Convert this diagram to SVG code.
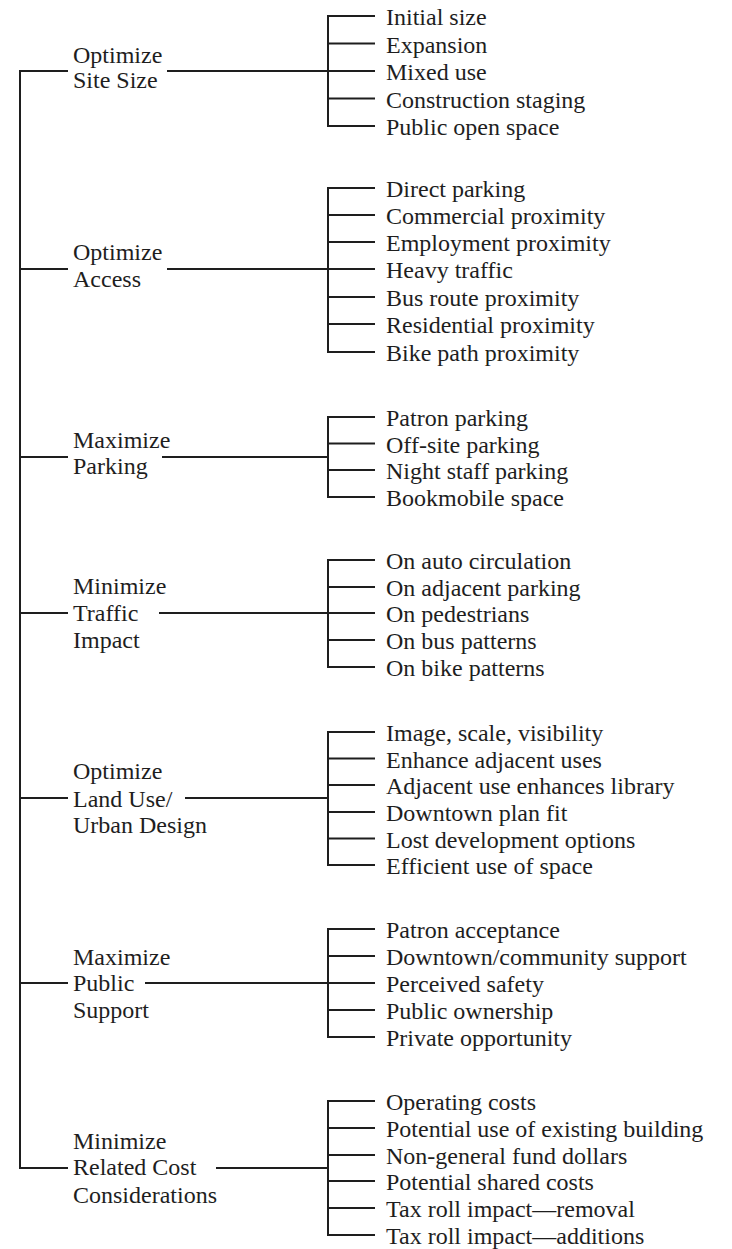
<svg xmlns="http://www.w3.org/2000/svg" width="732" height="1249" viewBox="0 0 732 1249">
  <style>
    .ln { stroke: #1e1e1e; stroke-width: 2; fill: none; stroke-linecap: square; }
    text { font-family: "Liberation Serif", "Times New Roman", serif; font-size: 24px; fill: #1e1e1e; }
  </style>
  <rect width="732" height="1249" fill="#ffffff"/>

  <!-- connectors: spine, stubs, main links, brackets and child ticks -->
  <g id="connectors" class="ln">
    <path d="M20 71 V1168"/>
    <!-- stubs from spine to each objective -->
    <path d="M20 71 H67 M20 269 H67 M20 457 H67 M20 613 H67 M20 798 H67 M20 983 H67 M20 1168 H67"/>
    <!-- links from objectives to brackets -->
    <path d="M168 71 H328 M168 269 H328 M163 457 H328 M160 613 H328 M186 798 H328 M146 983 H328 M217 1168 H328"/>
    <!-- brackets -->
    <path d="M328 16 V126 M328 188 V352 M328 417 V497 M328 560 V667 M328 732 V865 M328 929 V1037 M328 1101 V1235"/>
    <!-- child ticks -->
    <path d="M328 16 H374 M328 43.5 H374 M328 71 H374 M328 98.5 H374 M328 126 H374"/>
    <path d="M328 188 H374 M328 215 H374 M328 242 H374 M328 269 H374 M328 297 H374 M328 324 H374 M328 352 H374"/>
    <path d="M328 417 H374 M328 443.5 H374 M328 470 H374 M328 497 H374"/>
    <path d="M328 560 H374 M328 587 H374 M328 613 H374 M328 640 H374 M328 667 H374"/>
    <path d="M328 732 H374 M328 758.5 H374 M328 785 H374 M328 812 H374 M328 838.5 H374 M328 865 H374"/>
    <path d="M328 929 H374 M328 956 H374 M328 983 H374 M328 1010 H374 M328 1037 H374"/>
    <path d="M328 1101 H374 M328 1128 H374 M328 1155 H374 M328 1181 H374 M328 1208 H374 M328 1235 H374"/>
  </g>

  <g id="site-size">
    <text x="73" y="63">Optimize</text>
    <text x="73" y="88">Site Size</text>
    <text x="386" y="25">Initial size</text>
    <text x="386" y="52.5">Expansion</text>
    <text x="386" y="80">Mixed use</text>
    <text x="386" y="107.5">Construction staging</text>
    <text x="386" y="135">Public open space</text>
  </g>

  <g id="access">
    <text x="73" y="260">Optimize</text>
    <text x="73" y="287">Access</text>
    <text x="386" y="197">Direct parking</text>
    <text x="386" y="224">Commercial proximity</text>
    <text x="386" y="251">Employment proximity</text>
    <text x="386" y="278">Heavy traffic</text>
    <text x="386" y="306">Bus route proximity</text>
    <text x="386" y="333">Residential proximity</text>
    <text x="386" y="361">Bike path proximity</text>
  </g>

  <g id="parking">
    <text x="73" y="448">Maximize</text>
    <text x="73" y="474">Parking</text>
    <text x="386" y="426">Patron parking</text>
    <text x="386" y="452.5">Off-site parking</text>
    <text x="386" y="479">Night staff parking</text>
    <text x="386" y="506">Bookmobile space</text>
  </g>

  <g id="traffic-impact">
    <text x="73" y="594">Minimize</text>
    <text x="73" y="621">Traffic</text>
    <text x="73" y="648">Impact</text>
    <text x="386" y="569">On auto circulation</text>
    <text x="386" y="596">On adjacent parking</text>
    <text x="386" y="622">On pedestrians</text>
    <text x="386" y="649">On bus patterns</text>
    <text x="386" y="676">On bike patterns</text>
  </g>

  <g id="land-use">
    <text x="73" y="779">Optimize</text>
    <text x="73" y="807">Land Use/</text>
    <text x="73" y="833">Urban Design</text>
    <text x="386" y="741">Image, scale, visibility</text>
    <text x="386" y="767.5">Enhance adjacent uses</text>
    <text x="386" y="794">Adjacent use enhances library</text>
    <text x="386" y="821">Downtown plan fit</text>
    <text x="386" y="847.5">Lost development options</text>
    <text x="386" y="874">Efficient use of space</text>
  </g>

  <g id="public-support">
    <text x="73" y="965">Maximize</text>
    <text x="73" y="991">Public</text>
    <text x="73" y="1018">Support</text>
    <text x="386" y="938">Patron acceptance</text>
    <text x="386" y="965">Downtown/community support</text>
    <text x="386" y="992">Perceived safety</text>
    <text x="386" y="1019">Public ownership</text>
    <text x="386" y="1046">Private opportunity</text>
  </g>

  <g id="related-cost">
    <text x="73" y="1149">Minimize</text>
    <text x="73" y="1175">Related Cost</text>
    <text x="73" y="1203">Considerations</text>
    <text x="386" y="1110">Operating costs</text>
    <text x="386" y="1137">Potential use of existing building</text>
    <text x="386" y="1164">Non-general fund dollars</text>
    <text x="386" y="1190">Potential shared costs</text>
    <text x="386" y="1217">Tax roll impact—removal</text>
    <text x="386" y="1244">Tax roll impact—additions</text>
  </g>
</svg>
